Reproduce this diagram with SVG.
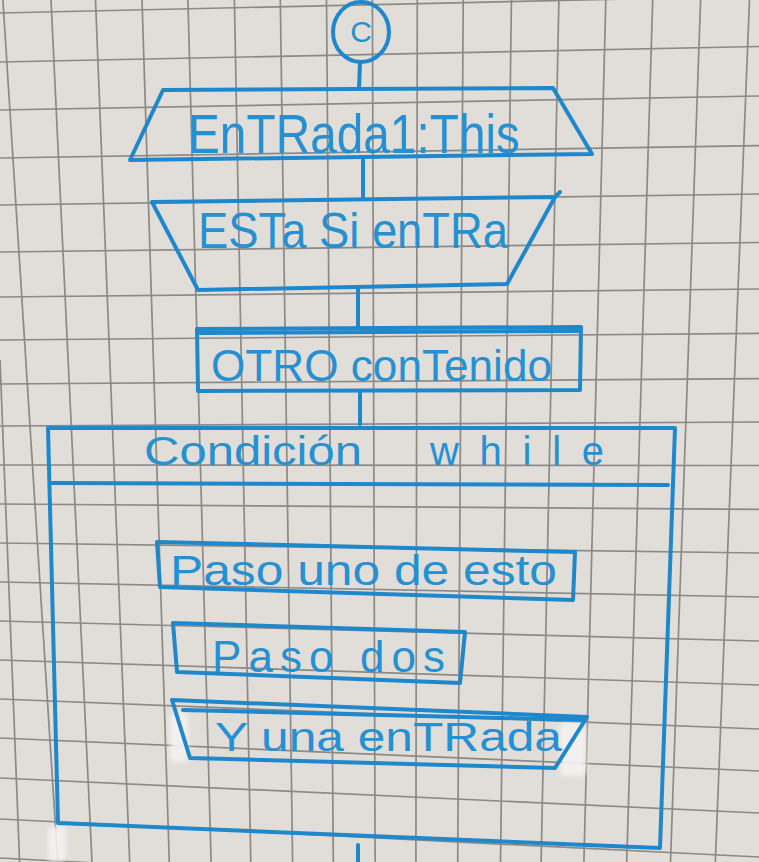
<svg xmlns="http://www.w3.org/2000/svg" width="759" height="862" viewBox="0 0 759 862">
<style>
.ink{fill:none;stroke:#1f88cc;stroke-width:4;stroke-linecap:round;stroke-linejoin:round}
.lbl{font-family:"Liberation Sans",Arial,sans-serif;fill:#2590d2}
#grid line{stroke:#8c8986;stroke-width:1.7}
</style>
<defs>
<filter id="soft" x="-50%" y="-50%" width="200%" height="200%"><feGaussianBlur stdDeviation="2.5"/></filter>
</defs>
<rect width="759" height="862" fill="#e1deda"/>
<g id="grid">
<line x1="2.9" y1="0" x2="57.7" y2="862"/>
<line x1="51" y1="0" x2="92" y2="862"/>
<line x1="95.5" y1="0" x2="129.7" y2="862"/>
<line x1="142" y1="0" x2="169.3" y2="862"/>
<line x1="187.9" y1="0" x2="211.1" y2="862"/>
<line x1="234.4" y1="0" x2="250.8" y2="862"/>
<line x1="280.3" y1="0" x2="292.6" y2="862"/>
<line x1="326.5" y1="0" x2="333.3" y2="862"/>
<line x1="372.4" y1="0" x2="375.1" y2="862"/>
<line x1="417.3" y1="0" x2="415.9" y2="862"/>
<line x1="463.2" y1="0" x2="457.7" y2="862"/>
<line x1="511.4" y1="0" x2="500.5" y2="862"/>
<line x1="558.9" y1="0" x2="541.1" y2="862"/>
<line x1="605.8" y1="0" x2="583.9" y2="862"/>
<line x1="652.7" y1="0" x2="626.7" y2="862"/>
<line x1="700.6" y1="0" x2="670.5" y2="862"/>
<line x1="749.5" y1="0" x2="715.3" y2="862"/>
<line x1="0" y1="360" x2="19.6" y2="862"/>
<line x1="0" y1="13" x2="759" y2="-4"/>
<line x1="0" y1="62" x2="759" y2="46.5"/>
<line x1="0" y1="110" x2="759" y2="96"/>
<line x1="0" y1="158" x2="759" y2="145.6"/>
<line x1="0" y1="205" x2="759" y2="194"/>
<line x1="0" y1="252" x2="759" y2="242.5"/>
<line x1="0" y1="297" x2="759" y2="289"/>
<line x1="0" y1="340" x2="759" y2="333.3"/>
<line x1="0" y1="384" x2="759" y2="378.7"/>
<line x1="0" y1="426" x2="759" y2="422"/>
<line x1="0" y1="465" x2="759" y2="465.5"/>
<line x1="0" y1="504" x2="759" y2="509.4"/>
<line x1="0" y1="543" x2="759" y2="553"/>
<line x1="0" y1="582" x2="759" y2="597"/>
<line x1="0" y1="621" x2="759" y2="641"/>
<line x1="0" y1="660" x2="759" y2="685"/>
<line x1="0" y1="699" x2="759" y2="729"/>
<line x1="0" y1="738" x2="759" y2="771"/>
<line x1="0" y1="778" x2="759" y2="813"/>
<line x1="0" y1="819" x2="759" y2="857"/>
<line x1="0" y1="858" x2="759" y2="898"/>
</g>
<g id="whiteout" fill="#f4f3f1" filter="url(#soft)" opacity="0.9">
<rect x="170" y="712" width="18" height="50" rx="5"/>
<rect x="560" y="722" width="26" height="54" rx="6"/>
<rect x="48" y="826" width="18" height="36" rx="5"/>
</g>
<g id="connectors" class="ink">
<line x1="360" y1="62" x2="359" y2="89"/>
<line x1="363" y1="160" x2="363" y2="199"/>
<line x1="358" y1="288" x2="358" y2="327"/>
<line x1="360" y1="391" x2="360" y2="424"/>
<line x1="358" y1="845" x2="358" y2="862"/>
</g>
<g id="node-c">
<ellipse class="ink" cx="361" cy="32" rx="28" ry="30"/>
<text class="lbl" x="361" y="42" font-size="30" text-anchor="middle">C</text>
</g>
<g id="node-entrada1">
<polygon class="ink" points="163,90 553,88 592,154 130,160"/>
<text class="lbl" x="188" y="153" font-size="56" textLength="332" lengthAdjust="spacingAndGlyphs">EnTRada1:This</text>
</g>
<g id="node-esta-si-entra">
<polygon class="ink" points="152,202 555,197 507,284 198,290"/>
<line class="ink" x1="555" y1="197" x2="560" y2="192"/>
<text class="lbl" x="198" y="248" font-size="50" textLength="310" lengthAdjust="spacingAndGlyphs">ESTa Si enTRa</text>
</g>
<g id="node-otro-contenido">
<polygon class="ink" points="197,329 581,327 580,390 198,391"/>
<line class="ink" x1="200" y1="333" x2="578" y2="331" stroke-width="2.5"/>
<text class="lbl" x="211" y="381" font-size="44" textLength="341" lengthAdjust="spacingAndGlyphs">OTRO conTenido</text>
</g>
<g id="node-while">
<polyline class="ink" points="58,823 48,428 675,428 660,848 58,823"/>
<line class="ink" x1="52" y1="483" x2="668" y2="485"/>
<text class="lbl" x="144" y="465" font-size="40" textLength="218" lengthAdjust="spacingAndGlyphs">Condición</text>
<text class="lbl" x="430" y="465" font-size="40" textLength="174" lengthAdjust="spacing">while</text>
</g>
<g id="node-paso-uno">
<polygon class="ink" points="157,542 575,552 573,600 160,587"/>
<text class="lbl" x="170" y="585" font-size="42" textLength="387" lengthAdjust="spacingAndGlyphs">Paso uno de esto</text>
</g>
<g id="node-paso-dos">
<polygon class="ink" points="173,623 465,632 460,683 177,672"/>
<text class="lbl" x="212" y="672" font-size="44" textLength="233" lengthAdjust="spacing">Paso dos</text>
</g>
<g id="node-y-una-entrada">
<polygon class="ink" points="172,700 587,717 555,768 190,758"/>
<line class="ink" x1="183" y1="710" x2="584" y2="720" stroke-width="2.5"/>
<text class="lbl" x="215" y="751" font-size="40" textLength="347" lengthAdjust="spacingAndGlyphs">Y una enTRada</text>
</g>
</svg>
